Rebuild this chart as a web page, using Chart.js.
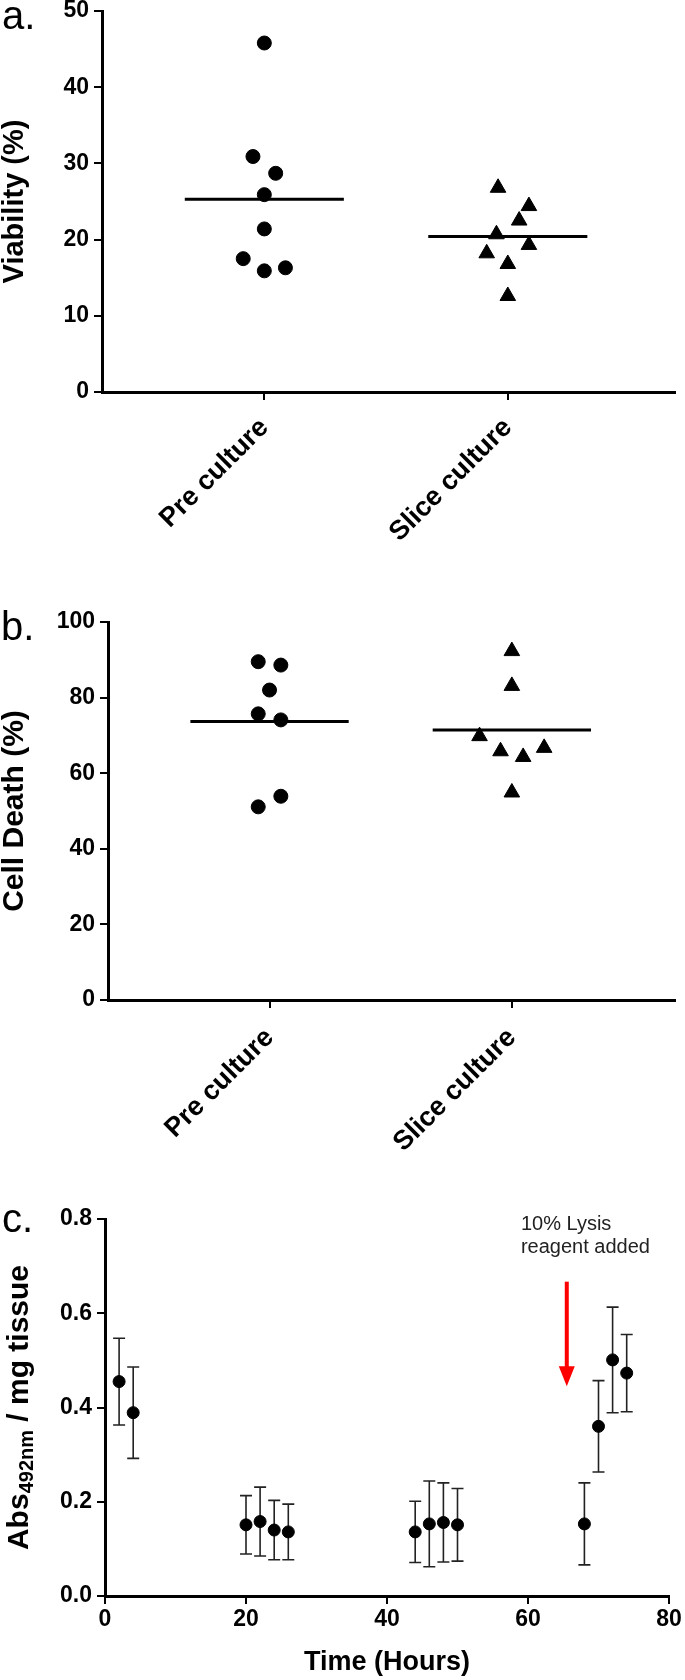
<!DOCTYPE html>
<html>
<head>
<meta charset="utf-8">
<title>Viability, cell death and LDH release</title>
<script src="https://cdn.jsdelivr.net/npm/chart.js@4.4.1/dist/chart.umd.min.js"></script>
<style>
  body { margin: 0; background: #fff; }
  #page { position: relative; width: 685px; height: 1680px; }
  canvas { position: absolute; left: 0; }
</style>
</head>
<body>
<div id="page">
  <canvas id="chart-a" width="685" height="600" style="top:0"></canvas>
  <canvas id="chart-b" width="685" height="600" style="top:600px"></canvas>
  <canvas id="chart-c" width="685" height="480" style="top:1200px"></canvas>
</div>
<script>
const FONT = '"Liberation Sans", Arial, Helvetica, sans-serif';

// Groups on the x axis of panels a and b
const categories = ['Pre culture', 'Slice culture'];
const categoryPos = [1, 2.5];

// a. Viability (%) - values and horizontal scatter offsets (in category units)
const viabilityTicks = [0, 10, 20, 30, 40, 50];
const preViability = [45.8, 30.9, 28.7, 25.9, 21.4, 17.5, 15.9, 16.3];
const preViabilityDx = [0, -0.07, 0.07, 0, 0, -0.13, 0, 0.13];
const sliceViability = [26.8, 24.4, 22.5, 20.7, 19.3, 18.2, 16.8, 12.6];
const sliceViabilityDx = [-0.06, 0.13, 0.07, -0.07, 0.13, -0.13, 0, 0];
const viabilityMeans = [25.3, 20.4];

// b. Cell Death (%)
const deathTicks = [0, 20, 40, 60, 80, 100];
const preDeath = [89.5, 88.6, 82.0, 75.7, 74.1, 53.9, 51.1];
const preDeathDx = [-0.07, 0.07, 0, -0.07, 0.07, 0.07, -0.07];
const sliceDeath = [92.3, 83.1, 69.8, 65.8, 64.3, 66.7, 54.9];
const sliceDeathDx = [0, 0, -0.2, -0.07, 0.07, 0.2, 0];
const deathMeans = [73.7, 71.4];

// c. Absorbance per mg tissue over time (mean +/- error)
const timeTicks = [0, 20, 40, 60, 80];
const absTicks = [0, 0.2, 0.4, 0.6, 0.8];
const timeHours = [2, 4, 20, 22, 24, 26, 44, 46, 48, 50, 68, 70, 72, 74];
const absPerMg = [0.455, 0.389, 0.151, 0.158, 0.140, 0.136, 0.136, 0.153, 0.156, 0.151, 0.153, 0.360, 0.501, 0.473];
const absError = [0.092, 0.097, 0.062, 0.073, 0.063, 0.059, 0.065, 0.091, 0.084, 0.077, 0.087, 0.097, 0.112, 0.082];

// Lysis reagent marker
const lysisTime = 65.5;
const lysisArrowFrom = 0.667;
const lysisArrowTo = 0.445;
const lysisNote = ['10% Lysis', 'reagent added'];
const lysisNoteX = 59;
const lysisNoteY = [0.789, 0.740];

// y title of panel c (with subscript)
const absTitle = [
  { text: 'Abs', sub: false },
  { text: '492nm', sub: true },
  { text: ' / mg tissue', sub: false }
];

Chart.defaults.font.family = FONT;
Chart.defaults.color = '#000';

// Panel letter in the top left corner
const panelLabel = {
  id: 'panelLabel',
  afterDraw(chart, args, opts) {
    const ctx = chart.ctx;
    ctx.save();
    ctx.font = '40px ' + FONT;
    ctx.fillStyle = '#000';
    ctx.textBaseline = 'alphabetic';
    ctx.fillText(opts.text, opts.x, opts.y);
    ctx.restore();
  }
};

// Vertical error bars with caps, drawn under the points
const errorBars = {
  id: 'errorBars',
  beforeDatasetsDraw(chart) {
    const { ctx, scales: { x, y } } = chart;
    ctx.save();
    ctx.strokeStyle = '#222';
    ctx.lineWidth = 1.6;
    timeHours.forEach((t, i) => {
      const px = x.getPixelForValue(t);
      const top = y.getPixelForValue(absPerMg[i] + absError[i]);
      const bot = y.getPixelForValue(absPerMg[i] - absError[i]);
      ctx.beginPath();
      ctx.moveTo(px, top); ctx.lineTo(px, bot);
      ctx.moveTo(px - 6, top); ctx.lineTo(px + 6, top);
      ctx.moveTo(px - 6, bot); ctx.lineTo(px + 6, bot);
      ctx.stroke();
    });
    ctx.restore();
  }
};

// Red arrow and note for the lysis reagent
const lysisArrow = {
  id: 'lysisArrow',
  afterDatasetsDraw(chart) {
    const { ctx, scales: { x, y } } = chart;
    const px = x.getPixelForValue(lysisTime);
    const top = y.getPixelForValue(lysisArrowFrom);
    const tip = y.getPixelForValue(lysisArrowTo);
    ctx.save();
    ctx.strokeStyle = '#ff0000';
    ctx.fillStyle = '#ff0000';
    ctx.lineWidth = 4;
    ctx.beginPath();
    ctx.moveTo(px, top);
    ctx.lineTo(px, tip - 18);
    ctx.stroke();
    ctx.beginPath();
    ctx.moveTo(px - 8, tip - 20);
    ctx.lineTo(px + 8, tip - 20);
    ctx.lineTo(px, tip);
    ctx.closePath();
    ctx.fill();

    ctx.fillStyle = '#222';
    ctx.font = '20px ' + FONT;
    ctx.textBaseline = 'middle';
    const nx = x.getPixelForValue(lysisNoteX);
    lysisNote.forEach((line, i) => ctx.fillText(line, nx, y.getPixelForValue(lysisNoteY[i])));
    ctx.restore();
  }
};

// Rotated y title with a subscript part
const richYTitle = {
  id: 'richYTitle',
  afterDraw(chart) {
    const { ctx, chartArea } = chart;
    const cy = (chartArea.top + chartArea.bottom) / 2;
    const fontFor = p => (p.sub ? 'bold 20px ' : 'bold 30px ') + FONT;
    ctx.save();
    let total = 0;
    absTitle.forEach(p => { ctx.font = fontFor(p); total += ctx.measureText(p.text).width; });
    ctx.translate(28, cy);
    ctx.rotate(-Math.PI / 2);
    ctx.fillStyle = '#000';
    ctx.textBaseline = 'alphabetic';
    let u = -total / 2;
    absTitle.forEach(p => {
      ctx.font = fontFor(p);
      ctx.fillText(p.text, u, p.sub ? 5 : 0);
      u += ctx.measureText(p.text).width;
    });
    ctx.restore();
  }
};

const axisBorder = { color: '#000', width: 3 };
const axisGrid = { drawOnChartArea: false, drawTicks: true, tickLength: 8, color: '#000', lineWidth: 2 };

function meanLine(pos, value) {
  return {
    type: 'line',
    data: [{ x: pos - 0.49, y: value }, { x: pos + 0.49, y: value }],
    borderColor: '#000',
    borderWidth: 3,
    pointRadius: 0,
    showLine: true
  };
}

function scatterSet(label, values, dx, pos, style, radius) {
  return {
    label: label,
    data: values.map((v, i) => ({ x: pos + dx[i], y: v })),
    pointStyle: style,
    pointRadius: radius,
    backgroundColor: '#000',
    borderColor: '#000',
    borderWidth: 1
  };
}

// Panels a and b share the same column scatter layout
function columnChart(id, opts) {
  return new Chart(document.getElementById(id), {
    type: 'scatter',
    data: {
      datasets: [
        scatterSet(categories[0], opts.pre, opts.preDx, categoryPos[0], 'circle', 7),
        scatterSet(categories[1], opts.slice, opts.sliceDx, categoryPos[1], 'triangle', 9),
        meanLine(categoryPos[0], opts.means[0]),
        meanLine(categoryPos[1], opts.means[1])
      ]
    },
    options: {
      responsive: false,
      animation: false,
      layout: { padding: { top: opts.top, right: opts.right, left: 0, bottom: 0 } },
      plugins: {
        legend: { display: false },
        tooltip: { enabled: false },
        panelLabel: opts.label
      },
      scales: {
        x: {
          type: 'linear',
          min: 0,
          max: opts.xMax,
          afterBuildTicks: axis => { axis.ticks = categoryPos.map(v => ({ value: v })); },
          afterFit: s => { s.height = opts.xHeight; s.paddingLeft = 0; s.paddingRight = 0; },
          border: axisBorder,
          grid: axisGrid,
          ticks: {
            autoSkip: false,
            minRotation: 45,
            maxRotation: 45,
            padding: opts.labelPad,
            color: '#000',
            font: { size: 27, weight: 'bold' },
            callback: v => categories[categoryPos.indexOf(v)]
          }
        },
        y: {
          min: opts.ticks[0],
          max: opts.ticks[opts.ticks.length - 1],
          afterBuildTicks: axis => { axis.ticks = opts.ticks.map(v => ({ value: v })); },
          afterFit: s => { s.width = opts.yWidth; s.paddingTop = 0; s.paddingBottom = 0; },
          border: axisBorder,
          grid: axisGrid,
          ticks: { padding: 5, color: '#000', font: { size: 23, weight: 'bold' } },
          title: {
            display: true,
            text: opts.title,
            color: '#000',
            padding: 0,
            font: { size: opts.titleSize, weight: 'bold', lineHeight: 1 }
          }
        }
      }
    },
    plugins: [panelLabel]
  });
}

columnChart('chart-a', {
  pre: preViability, preDx: preViabilityDx,
  slice: sliceViability, sliceDx: sliceViabilityDx,
  means: viabilityMeans, ticks: viabilityTicks,
  title: 'Viability (%)', titleSize: 29,
  top: 11, right: 5, yWidth: 102, xHeight: 208, labelPad: 12, xMax: 3.53,
  label: { text: 'a.', x: 2, y: 29 }
});

columnChart('chart-b', {
  pre: preDeath, preDx: preDeathDx,
  slice: sliceDeath, sliceDx: sliceDeathDx,
  means: deathMeans, ticks: deathTicks,
  title: 'Cell Death (%)', titleSize: 30,
  top: 22, right: 2, yWidth: 108, xHeight: 200, labelPad: 14, xMax: 3.51,
  label: { text: 'b.', x: 1, y: 40 }
});

// c. Time course with error bars
new Chart(document.getElementById('chart-c'), {
  type: 'scatter',
  data: {
    datasets: [{
      label: 'Abs492nm / mg tissue',
      data: timeHours.map((t, i) => ({ x: t, y: absPerMg[i] })),
      pointStyle: 'circle',
      pointRadius: 6,
      backgroundColor: '#000',
      borderColor: '#000',
      borderWidth: 1
    }]
  },
  options: {
    responsive: false,
    animation: false,
    layout: { padding: { top: 19, right: 16, left: 0, bottom: 0 } },
    plugins: {
      legend: { display: false },
      tooltip: { enabled: false },
      panelLabel: { text: 'c.', x: 2, y: 32 }
    },
    scales: {
      x: {
        type: 'linear',
        min: 0,
        max: 80,
        afterBuildTicks: axis => { axis.ticks = timeTicks.map(v => ({ value: v })); },
        afterFit: s => { s.height = 84; s.paddingLeft = 0; s.paddingRight = 0; },
        border: axisBorder,
        grid: axisGrid,
        ticks: { padding: 2, color: '#000', font: { size: 23, weight: 'bold' } },
        title: {
          display: true,
          text: 'Time (Hours)',
          color: '#000',
          padding: { top: 0, bottom: 1 },
          font: { size: 27, weight: 'bold' }
        }
      },
      y: {
        min: 0,
        max: 0.8,
        afterBuildTicks: axis => { axis.ticks = absTicks.map(v => ({ value: v })); },
        afterFit: s => { s.width = 105; s.paddingTop = 0; s.paddingBottom = 0; },
        border: axisBorder,
        grid: axisGrid,
        ticks: { padding: 5, color: '#000', font: { size: 23, weight: 'bold' }, callback: v => v.toFixed(1) }
      }
    }
  },
  plugins: [panelLabel, errorBars, lysisArrow, richYTitle]
});
</script>
</body>
</html>
